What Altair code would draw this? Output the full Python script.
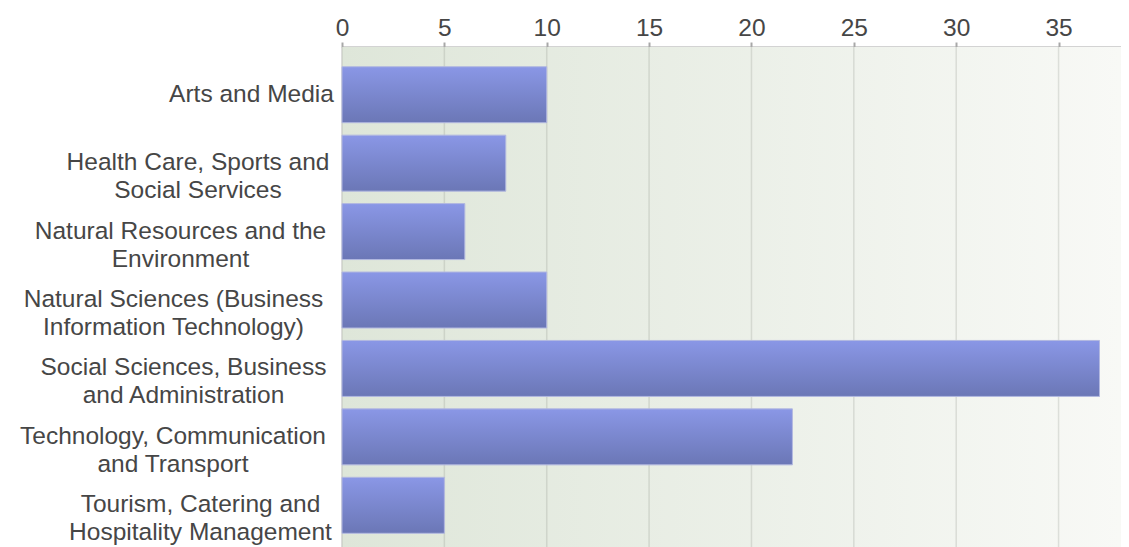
import altair as alt
import pandas as pd

categories = [
    "Arts and Media",
    "Health Care, Sports and|Social Services",
    "Natural Resources and the|Environment",
    "Natural Sciences (Business|Information Technology)",
    "Social Sciences, Business|and Administration",
    "Technology, Communication|and Transport",
    "Tourism, Catering and|Hospitality Management",
]
values = [10, 8, 6, 10, 37, 22, 5]
x_ticks = [0, 5, 10, 15, 20, 25, 30, 35]

# style: distance from the axis to the centre of each label block
label_pad = [91, 144.5, 162, 169, 159, 169.5, 142]

W, H = 779, 500
XMAX = 38.05
FONT = "Liberation Sans, Arial, sans-serif"
TXT = "#464646"

df = pd.DataFrame({"category": categories, "value": values})
ticks_df = pd.DataFrame({"tick": x_ticks})

pad_expr = " : ".join(
    f"datum.value === '{c}' ? {p}" for c, p in zip(categories, label_pad)
) + " : 150"

label_expr = (
    "indexof(datum.label, '|') >= 0 ? "
    "[split(datum.label, '|')[0] + '\u00a0', split(datum.label, '|')[1]] : datum.label"
)

xscale = alt.Scale(domain=[0, XMAX], nice=False, zero=True)

xaxis = alt.Axis(
    orient="top",
    values=x_ticks,
    title=None,
    grid=False,
    labelFont=FONT,
    labelFontSize=24.5,
    labelColor=TXT,
    labelBaseline="alphabetic",
    labelPadding=7,
    labelFlush=False,
    labelOverlap=False,
    tickSize=5,
    tickColor="#a8a8a8",
    tickWidth=2,
    domainColor="#a8a8a8",
    domainWidth=2,
)

bg_grad = alt.Gradient(
    gradient="linear",
    stops=[
        alt.GradientStop(color="#dee6d9", offset=0),
        alt.GradientStop(color="#f8f9f6", offset=1),
    ],
    x1=0, x2=1, y1=0, y2=0,
)
bar_grad = alt.Gradient(
    gradient="linear",
    stops=[
        alt.GradientStop(color="#8a97e6", offset=0),
        alt.GradientStop(color="#6b77b6", offset=1),
    ],
    x1=0, x2=0, y1=0, y2=1,
)

bg = alt.Chart(alt.Data(values=[{}])).mark_rect(color=bg_grad).encode(
    x=alt.value(0), x2=alt.value(W), y=alt.value(0), y2=alt.value(H)
)

grid = alt.Chart(ticks_df).mark_rule(color="#8f948c", opacity=0.25, strokeWidth=1.5).encode(
    x=alt.X("tick:Q", scale=xscale, axis=xaxis),
    y=alt.value(0),
    y2=alt.value(H),
)

bars = alt.Chart(df).mark_bar(color=bar_grad, stroke="#b2b8e0", strokeWidth=1).encode(
    x=alt.X("value:Q", scale=xscale, axis=xaxis),
    y=alt.Y(
        "category:N",
        sort=categories,
        scale=alt.Scale(paddingInner=0.1817, paddingOuter=0.2442, align=0.59),
        axis=alt.Axis(
            title=None,
            ticks=False,
            tickSize=0,
            labelAlign="center",
            labelBaseline="middle",
            labelPadding=alt.ExprRef(expr=pad_expr),
            labelExpr=label_expr,
            labelFont=FONT,
            labelFontSize=24.5,
            labelLineHeight=28,
            labelColor=TXT,
            labelLimit=0,
            labelOverlap=False,
            domainColor="#bdbdbd",
            domainWidth=1.5,
        ),
    ),
)

chart = (
    alt.layer(bg, grid, bars)
    .properties(
        width=W,
        height=H,
        autosize=alt.AutoSizeParams(type="none"),
        padding={"left": 334, "top": 39, "right": 0, "bottom": 0},
        background="white",
    )
    .configure_view(stroke=None)
)

chart.save("out.html", embed_options={"renderer": "svg", "actions": False})
